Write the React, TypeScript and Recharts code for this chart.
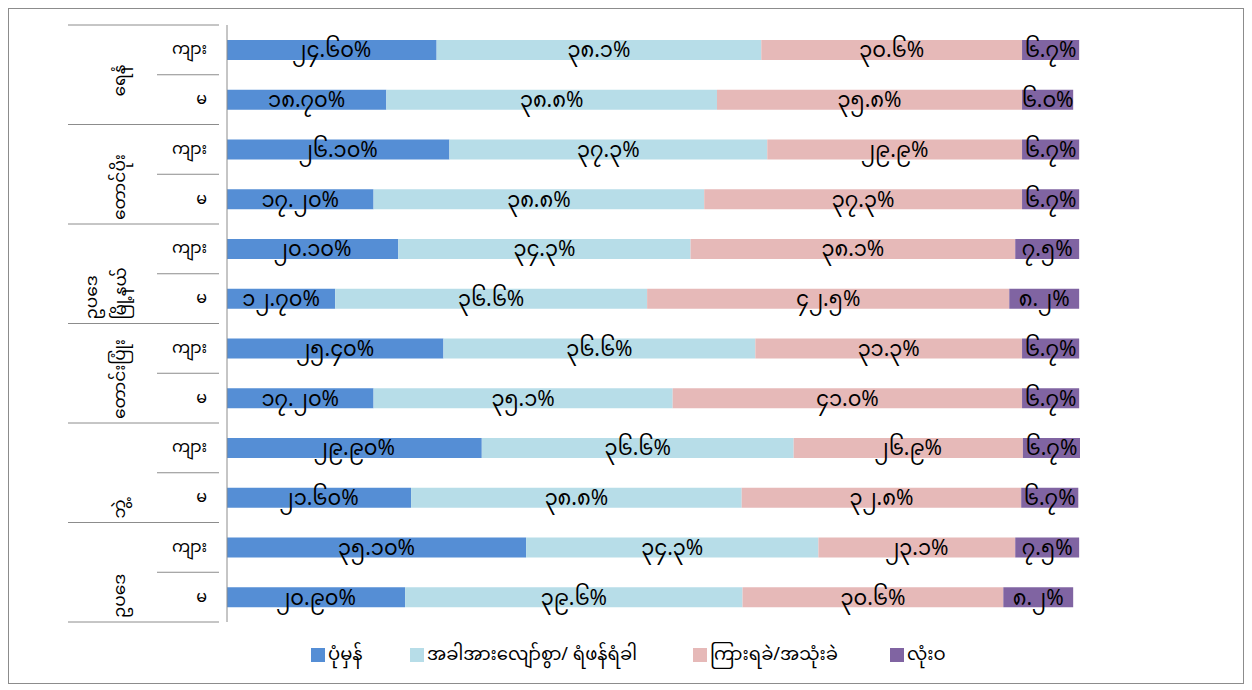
import React from 'react';
import { BarChart, Bar, XAxis, YAxis, Legend, LabelList } from 'recharts';

const groups = ['ရေနံ', 'တောင်ပိုး', 'ဥပဒေ\nမြို့နယ်', 'တောင်းပြုံး', 'ဘွဲ့', 'ဥပဒေ'];
const genders = ['ကျား', 'မ'];

const regular = [24.6, 18.7, 26.1, 17.2, 20.1, 12.7, 25.4, 17.2, 29.9, 21.6, 35.1, 20.9];
const sometimes = [38.1, 38.8, 37.3, 38.8, 34.3, 36.6, 36.6, 35.1, 36.6, 38.8, 34.3, 39.6];
const rarely = [30.6, 35.8, 29.9, 37.3, 38.1, 42.5, 31.3, 41.0, 26.9, 32.8, 23.1, 30.6];
const never = [6.7, 6.0, 6.7, 6.7, 7.5, 8.2, 6.7, 6.7, 6.7, 6.7, 7.5, 8.2];

const seriesNames = ['ပုံမှန်', 'အခါအားလျော်စွာ/ ရံဖန်ရံခါ', 'ကြားရခဲ/အသုံးခဲ', 'လုံးဝ'];
const seriesColors = ['#558ed5', '#b7dde8', '#e6b9b8', '#8064a2'];

const data = regular.map((v, i) => ({
  row: `${i}`,
  group: groups[Math.floor(i / 2)],
  gender: genders[i % 2],
  regular: v,
  sometimes: sometimes[i],
  rarely: rarely[i],
  never: never[i],
}));

const MM_DIGITS = ['၀', '၁', '၂', '၃', '၄', '၅', '၆', '၇', '၈', '၉'];
const toMM = (s: string) => s.replace(/[0-9]/g, (d) => MM_DIGITS[Number(d)]);

const W = 1234;
const H = 674;
const TOP = 16;
const BOTTOM = 61;
const LEFT = 218;
const RIGHT = 163;
const BAND = (H - TOP - BOTTOM) / data.length;
const FONT = '"Noto Sans Myanmar", "Myanmar Text", "Noto Sans", sans-serif';
const GRID = '#8c8c8c';

const CategoryTick = (props: any) => {
  const { x, y, index } = props;
  const d = data[index];
  if (!d) return null;
  const isFemale = index % 2 === 1;
  const bottom = y + BAND / 2;
  const lines = d.group.split('\n');
  const lx = lines.length > 1 ? 84 : 112;
  const ly = index === 1 ? bottom - 28 : bottom - 4;
  return (
    <g>
      {index === 0 && <line x1={59} x2={x} y1={y - BAND / 2} y2={y - BAND / 2} stroke={GRID} />}
      <line x1={isFemale ? 59 : 148} x2={x} y1={bottom} y2={bottom} stroke={GRID} />
      <text x={198} y={y + 1} textAnchor="end" dominantBaseline="central" fontSize={16} fill="#000" fontFamily={FONT}>
        {d.gender}
      </text>
      {isFemale &&
        lines.map((t: string, k: number) => (
          <text
            key={k}
            x={lx + k * 29}
            y={ly}
            transform={`rotate(-90 ${lx + k * 29} ${ly})`}
            textAnchor="start"
            dominantBaseline="central"
            fontSize={17}
            fill="#000"
            fontFamily={FONT}
          >
            {t}
          </text>
        ))}
    </g>
  );
};

const legendLeft = [302, 401, 684, 881];

const LegendContent = () => (
  <div style={{ position: 'relative', height: 0, fontFamily: FONT, fontSize: 18, color: '#000' }}>
    {seriesNames.map((n, i) => (
      <span
        key={n}
        style={{ position: 'absolute', left: legendLeft[i], top: 0, display: 'flex', alignItems: 'center', whiteSpace: 'nowrap', height: 24 }}
      >
        <span style={{ width: 14, height: 14, background: seriesColors[i], marginRight: 3, display: 'inline-block' }} />
        {n}
      </span>
    ))}
  </div>
);

const keys = ['regular', 'sometimes', 'rarely', 'never'];

export default function App() {
  return (
    <div style={{ width: W, height: H, border: '1px solid #8c8c8c', background: '#fff' }}>
      <BarChart
        width={W}
        height={H}
        data={data}
        layout="vertical"
        margin={{ top: TOP, right: RIGHT, bottom: BOTTOM, left: 0 }}
      >
        <XAxis type="number" domain={[0, 100]} hide />
        <YAxis
          type="category"
          dataKey="row"
          width={LEFT}
          axisLine={{ stroke: GRID }}
          tickLine={false}
          interval={0}
          tick={<CategoryTick />}
        />
        {keys.map((k, i) => (
          <Bar key={k} dataKey={k} name={seriesNames[i]} stackId="a" fill={seriesColors[i]} barSize={20} isAnimationActive={false}>
            <LabelList
              dataKey={k}
              position="center"
              fill="#000"
              fontSize={21}
              fontFamily={FONT}
              formatter={(v: any) => toMM(`${Number(v).toFixed(i === 0 ? 2 : 1)}%`)}
            />
          </Bar>
        ))}
        <Legend content={<LegendContent />} wrapperStyle={{ top: 634, left: 0, width: W, height: 0 }} />
      </BarChart>
    </div>
  );
}
